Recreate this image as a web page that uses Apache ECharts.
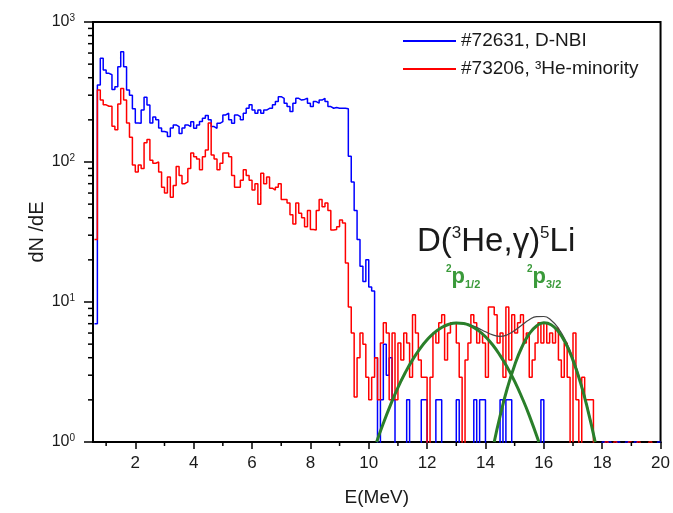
<!DOCTYPE html>
<html><head><meta charset="utf-8">
<script src="https://cdn.jsdelivr.net/npm/echarts@6/dist/echarts.min.js"></script>
<style>html,body{margin:0;padding:0;background:#fff}#c{width:673px;height:513px}</style>
</head><body><div id="c"></div>
<script>
// histogram bins: left edge of first bin and bin width (MeV)
const binStart = 0.6;
const binWidth = 0.1;
// empty bins are given 0.5 (below the 10^0 axis floor)
const blueCounts = [
  7, 355, 550, 454,
  430, 420, 330, 345, 480, 614, 480, 327, 300, 240,
  190, 189, 235, 290, 255, 190, 210, 200, 175, 165,
  163, 152, 175, 184, 179, 160, 175, 184, 179, 194,
  174, 184, 195, 205, 215, 200, 179, 174, 189, 194,
  217, 223, 200, 189, 217, 211, 200, 223, 242, 256,
  235, 223, 235, 223, 235, 242, 242, 256, 270, 293,
  285, 263, 249, 229, 263, 285, 277, 280, 285, 263,
  249, 270, 263, 277, 285, 270, 249, 242, 245, 242,
  242, 242, 240, 110, 72, 45, 28, 18, 14, 20,
  12.8, 12, 4, 0.5, 2, 5, 3, 4, 2, 0.5,
  0.5, 0.5, 0.5, 2, 0.5, 0.5, 0.5, 0.5, 2, 2,
  0.5, 0.5, 0.5, 2, 2, 0.5, 0.5, 0.5, 0.5, 0.5,
  2, 0.5, 0.5, 0.5, 0.5, 0.5, 2, 0.5, 2, 2,
  0.5, 0.5, 0.5, 0.5, 0.5, 2, 0.5, 2, 2, 0.5,
  0.5, 0.5, 0.5, 0.5, 0.5, 0.5, 0.5, 0.5, 0.5, 2,
  0.5, 0.5, 0.5, 0.5, 0.5, 0.5, 0.5, 0.5, 0.5, 0.5,
  0.5, 0.5, 0.5, 0.5, 0.5, 0.5, 0.5, 0.5, 0.5, 0.5,
  1, 0.5, 1, 0.5, 0.5, 1, 0.5, 0.5, 1, 0.5,
  0.5, 1, 0.5, 0.5, 0.5, 0.5, 0.5, 0.5, 0.5, 1
];
const redCounts = [
  28, 327, 277, 256,
  250, 250, 180, 170, 260, 335, 277, 190, 150, 95,
  85, 95, 90, 137, 145, 103, 98, 100, 85, 66,
  60, 78, 56, 68, 93, 80, 70, 72, 90, 116,
  109, 105, 88, 109, 122, 190, 112, 105, 88, 98,
  116, 116, 109, 80, 66, 66, 74, 88, 80, 74,
  63, 70, 50, 83, 70, 78, 65, 63, 66, 70,
  54, 54, 51, 42, 36, 51, 43, 40, 34.5, 45,
  33, 32.7, 45, 54, 48, 51, 45, 32.7, 33, 34.5,
  38.5, 36.6, 19, 9.2, 6, 2.1, 4, 6, 5, 2.9,
  2, 2.9, 4, 2, 5.1, 7.1, 6, 2, 6, 2,
  5.1, 3.85, 6, 5.1, 2.9, 8.1, 6, 3.85, 2.9, 2.9,
  0.5, 2.9, 6, 5.1, 7.1, 8.1, 3.85, 6, 7.1, 7.1,
  5.1, 2.9, 0.5, 3.85, 5.1, 8.1, 7.1, 5.1, 6, 5.1,
  2.9, 9.2, 9.2, 8.1, 5.1, 6, 2.9, 9.2, 3.85, 8.1,
  6, 7.1, 8.1, 5.1, 6, 2.9, 3.85, 5.1, 7.1, 5.1,
  7.1, 5.1, 6, 5.1, 6.5, 3.85, 2.9, 5.1, 2.9, 0.5,
  6, 2, 0.5, 2.9, 2, 2, 2, 0.5, 0.5, 0.5,
  0.5, 1, 0.5, 0.5, 1, 0.5, 0.5, 0.5, 0.5, 1,
  0.5, 0.5, 1, 0.5, 0.5, 0.5, 1, 0.5, 0.5, 0.5
];
// fitted peaks
const peak1E = [10.27, 10.5, 10.75, 11, 11.25, 11.5, 11.75, 12, 12.25, 12.5, 12.75, 13, 13.25, 13.5, 13.75, 14, 14.25, 14.5, 14.75, 15, 15.25, 15.5, 15.83];
const peak1V = [1.0, 1.36, 1.85, 2.45, 3.12, 3.86, 4.62, 5.37, 6.04, 6.57, 6.94, 7.09, 7.03, 6.74, 6.27, 5.65, 4.93, 4.16, 3.41, 2.71, 2.08, 1.55, 1.0];
const peak2E = [14.3, 14.5, 14.75, 15, 15.25, 15.5, 15.75, 16, 16.25, 16.5, 16.75, 17, 17.25, 17.5, 17.76];
const peak2V = [1.0, 1.53, 2.43, 3.54, 4.77, 5.91, 6.74, 7.10, 6.88, 6.14, 5.06, 3.83, 2.68, 1.72, 1.0];
const sumE = [10.27, 10.5, 10.75, 11, 11.25, 11.5, 11.75, 12, 12.25, 12.5, 12.75, 13, 13.25, 13.5, 13.75, 14, 14.25, 14.5, 14.75, 15, 15.25, 15.5, 15.75, 16, 16.25, 16.5, 16.75, 17, 17.25, 17.5, 17.76];
const sumV = [1.0, 1.36, 1.85, 2.45, 3.12, 3.86, 4.62, 5.37, 6.04, 6.57, 6.94, 7.10, 7.07, 6.85, 6.51, 6.13, 5.82, 5.69, 5.84, 6.25, 6.85, 7.46, 7.86, 7.88, 7.41, 6.49, 5.28, 3.97, 2.76, 1.77, 1.03];

const seriesNames = ['#72631, D-NBI', '#73206, \u00b3He-minority'];
const xTickLabels = [2, 4, 6, 8, 10, 12, 14, 16, 18, 20];
const xMinorTicks = [1, 3, 5, 7, 9, 11, 13, 15, 17, 19];
const yMinorTicks = [2, 3, 4, 5, 6, 7, 8, 9, 20, 30, 40, 50, 60, 70, 80, 90, 200, 300, 400, 500, 600, 700, 800, 900];

const X_MIN = 0.55, X_MAX = 20, Y_MIN = 1, Y_MAX = 1000;

function histo(counts) {
  const pts = counts.map((v, i) => [+(binStart + i * binWidth).toFixed(2), v]);
  pts.push([+(binStart + counts.length * binWidth).toFixed(2), counts[counts.length - 1]]);
  return pts;
}
function pairs(xs, ys) { return xs.map((x, i) => [x, ys[i]]); }

const FONT = '"Liberation Sans", Arial, sans-serif';
const TXT = '#1a1a1a';
const GREEN = '#2a7f2a';
const GTXT = '#3a9a3a';

const chart = echarts.init(document.getElementById('c'), null, { renderer: 'canvas' });
chart.setOption({
  animation: false,
  backgroundColor: '#fff',
  textStyle: { fontFamily: FONT },
  grid: { left: 93, right: 12, top: 22, bottom: 71, show: true, borderColor: '#000', borderWidth: 2, backgroundColor: 'transparent' },
  legend: {
    data: seriesNames, orient: 'vertical', left: 403, top: 31, padding: 0,
    itemWidth: 53, itemHeight: 2, itemGap: 8, icon: 'rect',
    textStyle: { fontSize: 19, color: TXT, fontFamily: FONT, lineHeight: 20 }
  },
  xAxis: {
    type: 'value', min: X_MIN, max: X_MAX,
    axisLine: { lineStyle: { color: '#000', width: 2 } },
    axisTick: { customValues: xTickLabels, length: 7, lineStyle: { color: '#000', width: 1.5 } },
    axisLabel: { customValues: xTickLabels, fontSize: 17, color: TXT, margin: 13, fontFamily: FONT },
    splitLine: { show: false },
    name: 'E(MeV)', nameLocation: 'middle', nameGap: 46,
    nameTextStyle: { fontSize: 19, color: TXT, fontFamily: FONT }
  },
  yAxis: {
    type: 'log', logBase: 10, min: Y_MIN, max: Y_MAX,
    axisLine: { lineStyle: { color: '#000', width: 2 } },
    axisTick: { length: 9, lineStyle: { color: '#000', width: 1.5 } },
    axisLabel: {
      margin: 18, color: TXT, fontFamily: FONT,
      formatter: v => '{b|10}{s|' + Math.round(Math.log10(v)) + '}',
      rich: {
        b: { fontSize: 16, color: TXT, fontFamily: FONT, lineHeight: 18 },
        s: { fontSize: 10, color: TXT, fontFamily: FONT, verticalAlign: 'top', lineHeight: 10 }
      }
    },
    splitLine: { show: false },
    name: 'dN /dE', nameLocation: 'middle', nameGap: 46, nameMoveOverlap: false,
    nameTextStyle: { fontSize: 20, color: TXT, fontFamily: FONT }
  },
  series: [
    { name: seriesNames[0], type: 'line', step: 'end', symbol: 'none', data: histo(blueCounts),
      color: '#0000ff', lineStyle: { color: '#0000ff', width: 1.5 }, itemStyle: { color: '#0000ff' }, z: 2 },
    { name: seriesNames[1], type: 'line', step: 'end', symbol: 'none', data: histo(redCounts),
      color: '#ff0000', lineStyle: { color: '#ff0000', width: 1.5 }, itemStyle: { color: '#ff0000' }, z: 3 },
    { name: 'sum', type: 'line', smooth: true, symbol: 'none', data: pairs(sumE, sumV),
      lineStyle: { color: '#444', width: 1.2 }, z: 4 },
    { name: 'p12', type: 'line', smooth: true, symbol: 'none', data: pairs(peak1E, peak1V),
      lineStyle: { color: GREEN, width: 3 }, z: 5 },
    { name: 'p32', type: 'line', smooth: true, symbol: 'none', data: pairs(peak2E, peak2V),
      lineStyle: { color: GREEN, width: 3 }, z: 5 },
    { name: 'yminor', type: 'custom', silent: true, clip: false, z: 6,
      data: yMinorTicks.map(v => [X_MIN, v]),
      renderItem: (p, api) => {
        const pt = api.coord([api.value(0), api.value(1)]);
        return { type: 'line', shape: { x1: pt[0] - 5, y1: pt[1], x2: pt[0], y2: pt[1] }, style: { stroke: '#000', lineWidth: 1.5 } };
      } },
    { name: 'xminor', type: 'custom', silent: true, clip: false, z: 6,
      data: xMinorTicks.map(e => [e, Y_MIN]),
      renderItem: (p, api) => {
        const pt = api.coord([api.value(0), api.value(1)]);
        return { type: 'line', shape: { x1: pt[0], y1: pt[1], x2: pt[0], y2: pt[1] + 4 }, style: { stroke: '#000', lineWidth: 1.5 } };
      } }
  ],
  graphic: [
    { type: 'text', left: 417, top: 225, z: 10,
      style: { text: 'D({s|3}He,\u03b3){s|5}Li', fill: TXT, fontSize: 33, fontFamily: FONT,
        rich: { s: { fontSize: 17, fill: TXT, fontFamily: FONT, verticalAlign: 'top', lineHeight: 17 } } } },
    { type: 'text', left: 446, top: 264, z: 10,
      style: { text: '{a|2}{p|p}{b|1/2}', fill: GTXT,
        rich: { a: { fontSize: 10, fontWeight: 'bold', fill: GTXT, verticalAlign: 'top', lineHeight: 10, fontFamily: FONT },
                p: { fontSize: 22, fontWeight: 'bold', fill: GTXT, lineHeight: 26, fontFamily: FONT },
                b: { fontSize: 11, fontWeight: 'bold', fill: GTXT, verticalAlign: 'bottom', lineHeight: 11, fontFamily: FONT } } } },
    { type: 'text', left: 527, top: 264, z: 10,
      style: { text: '{a|2}{p|p}{b|3/2}', fill: GTXT,
        rich: { a: { fontSize: 10, fontWeight: 'bold', fill: GTXT, verticalAlign: 'top', lineHeight: 10, fontFamily: FONT },
                p: { fontSize: 22, fontWeight: 'bold', fill: GTXT, lineHeight: 26, fontFamily: FONT },
                b: { fontSize: 11, fontWeight: 'bold', fill: GTXT, verticalAlign: 'bottom', lineHeight: 11, fontFamily: FONT } } } }
  ]
});
</script></body></html>
